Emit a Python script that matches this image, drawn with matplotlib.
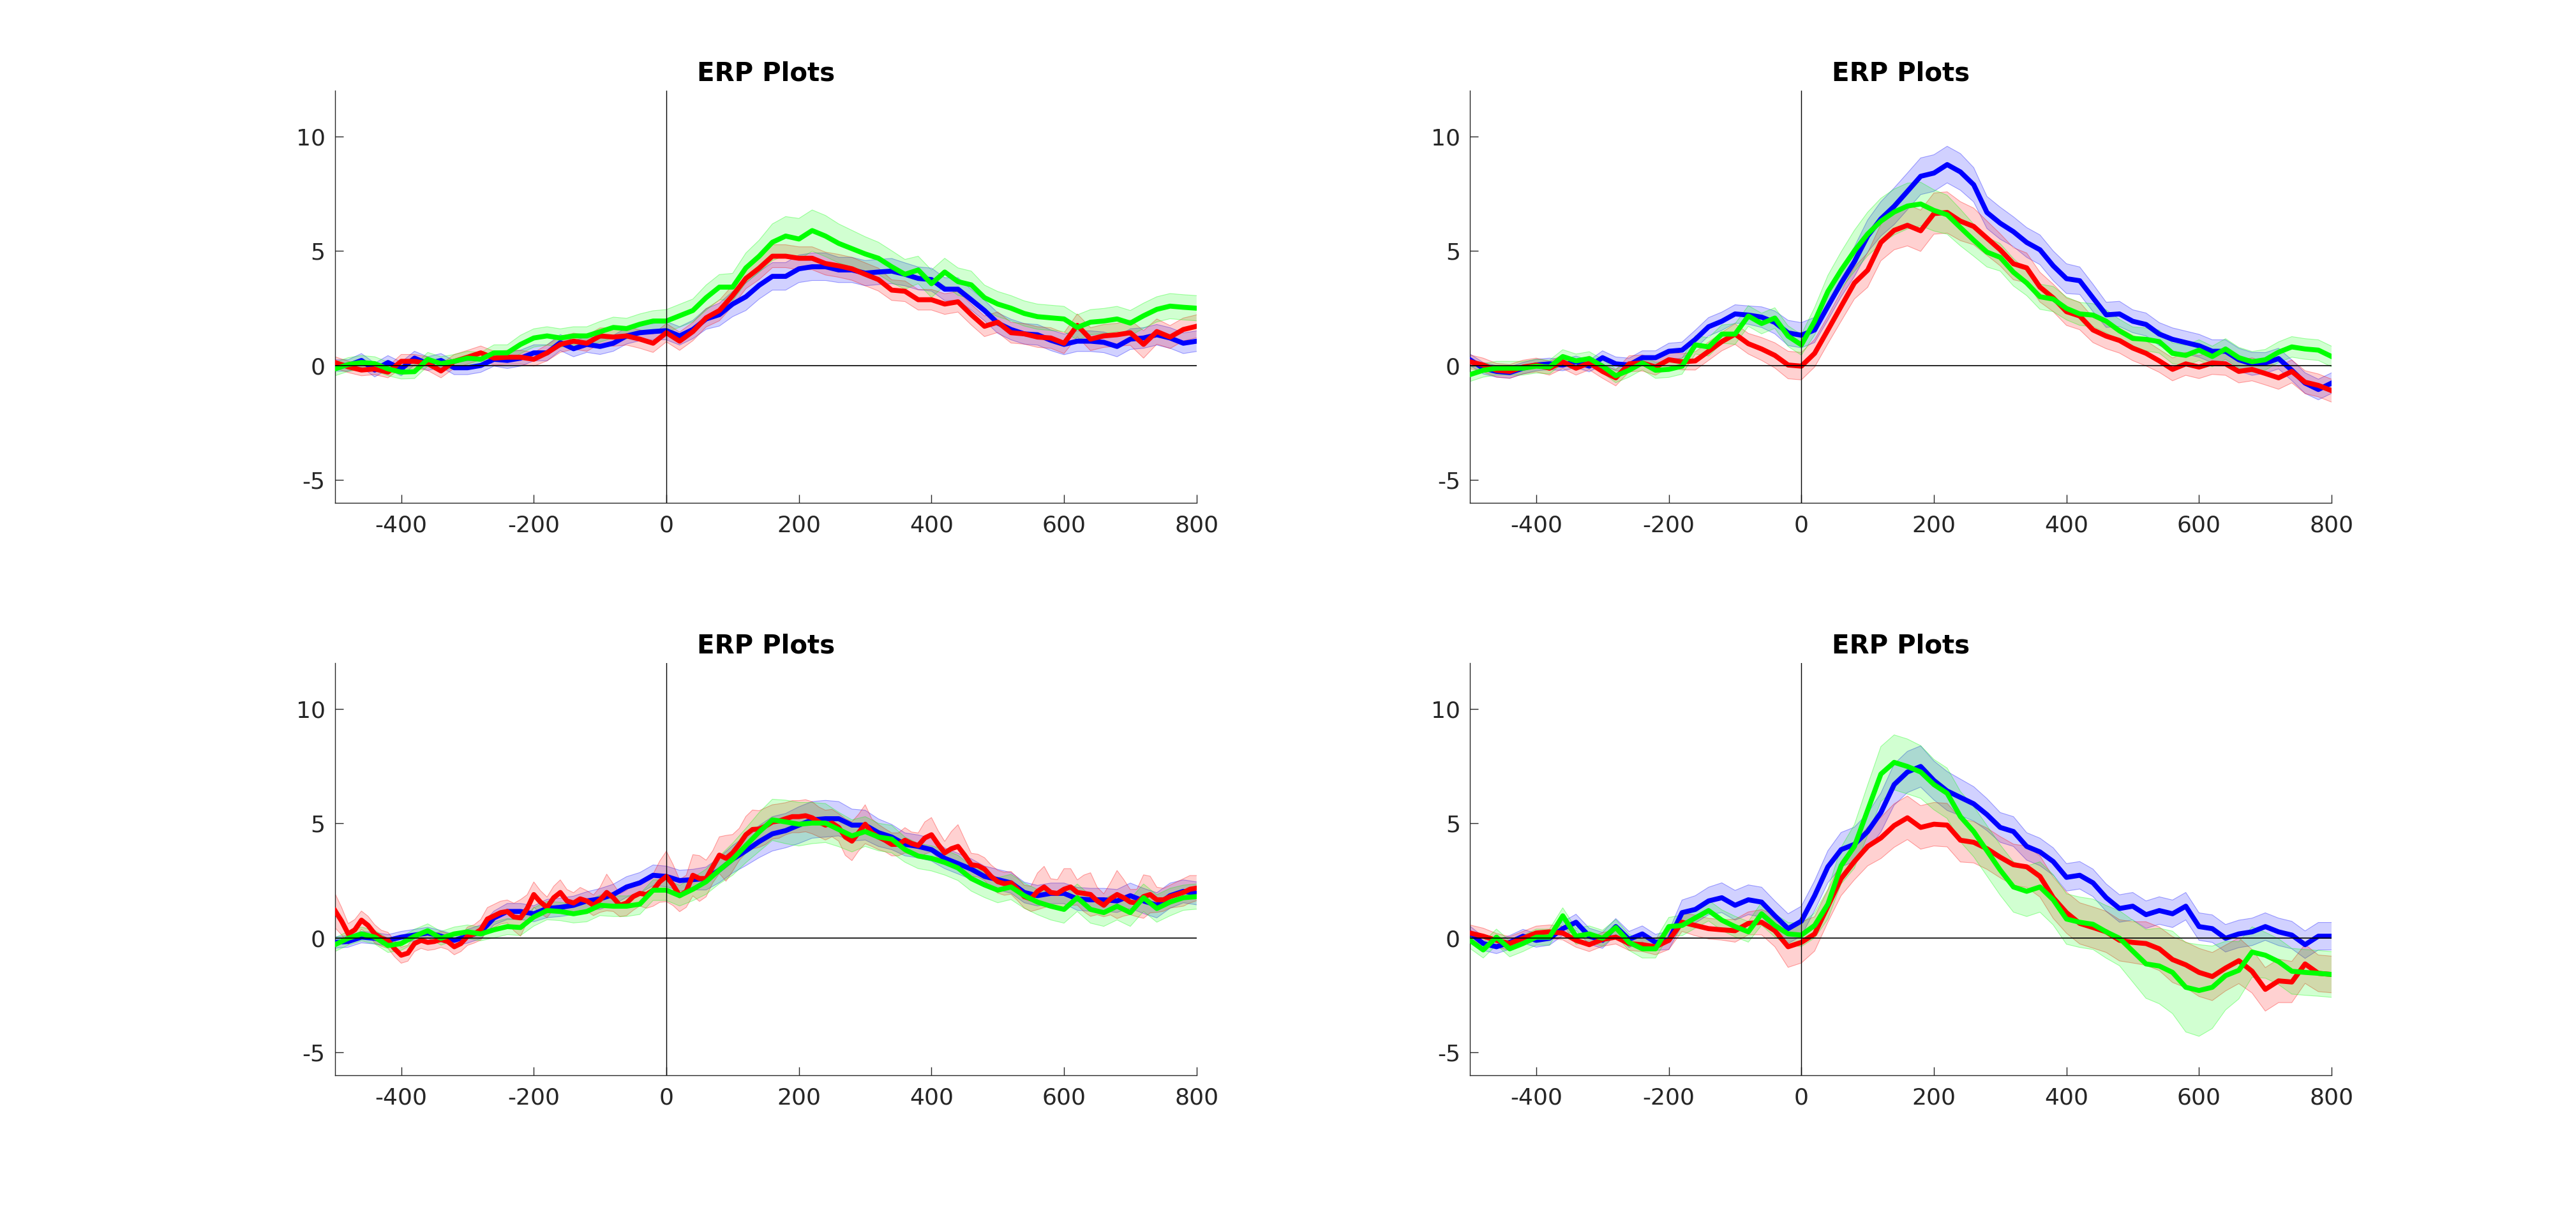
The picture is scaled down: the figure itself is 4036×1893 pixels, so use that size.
# ============================================================
# ERP plots, 4 panels (mean +- SE), blue / red / green conditions
# ============================================================

import numpy as np
import matplotlib
matplotlib.use("Agg")
import matplotlib.pyplot as plt

# ============================================================
# DATA
# ============================================================

# time axis (ms), 20 ms steps; the wiggly red trace of panel C uses 10 ms
t20 = np.arange(-500, 801, 20)
t10 = np.arange(-500, 801, 10)

# ---- panel A (top left) ----
A_blue = [0, 0, 0.22, -0.2, 0.13, -0.15, 0.32, 0.08, 0.22, -0.1,
          -0.1, 0, 0.27, 0.22, 0.32, 0.55, 0.55, 1.0, 0.73, 0.92,
          0.83, 0.97, 1.29, 1.43, 1.48,
          1.52, 1.29, 1.57, 2.03, 2.22, 2.68, 3.0, 3.5, 3.89, 3.89,
          4.22, 4.31, 4.31, 4.17, 4.17, 4.03, 4.08, 4.12, 3.98, 3.8,
          3.75, 3.33, 3.33, 2.87, 2.4, 1.85, 1.57, 1.38, 1.34, 1.1,
          0.92, 1.06, 1.06, 1.01, 0.83, 1.15, 1.2, 1.34, 1.2, 0.97,
          1.06]
A_red = [0.13, -0.06, -0.2, -0.15, -0.29, 0.18, 0.18, 0.08, -0.24, 0.18,
         0.36, 0.55, 0.32, 0.36, 0.36, 0.27, 0.55, 0.92, 1.06, 0.97,
         1.29, 1.24, 1.29, 1.15, 0.97,
         1.43, 1.06, 1.48, 2.08, 2.4, 3.05, 3.8, 4.25, 4.77, 4.77,
         4.68, 4.68, 4.45, 4.35, 4.22, 3.98, 3.75, 3.29, 3.24, 2.87,
         2.87, 2.68, 2.78, 2.22, 1.71, 1.89, 1.43, 1.38, 1.24, 1.2,
         0.97, 1.75, 1.15, 1.29, 1.34, 1.43, 0.92, 1.48, 1.24, 1.57,
         1.71]
A_green = [-0.15, 0.04, 0.13, 0.08, -0.15, -0.29, -0.27, 0.27, 0.08, 0.18,
           0.32, 0.27, 0.55, 0.55, 0.92, 1.2, 1.29, 1.2, 1.29, 1.29,
           1.47, 1.66, 1.61, 1.8, 1.94,
           1.94, 2.17, 2.4, 2.96, 3.42, 3.42, 4.26, 4.77, 5.38, 5.65,
           5.52, 5.89, 5.65, 5.33, 5.1, 4.87, 4.68, 4.31, 3.98, 4.17,
           3.57, 4.08, 3.66, 3.52, 2.96, 2.68, 2.5, 2.27, 2.13, 2.08,
           2.03, 1.66, 1.89, 1.94, 2.03, 1.85, 2.17, 2.45, 2.59, 2.54,
           2.5]
A_blue_se = [0.25, 0.25, 0.3, 0.3, 0.3, 0.3, 0.3, 0.3, 0.3, 0.3,
             0.3, 0.3, 0.3, 0.35, 0.35, 0.35, 0.35, 0.35, 0.35, 0.35,
             0.35, 0.35, 0.35, 0.35, 0.35,
             0.4, 0.4, 0.4, 0.45, 0.5, 0.55, 0.6, 0.6, 0.6, 0.6,
             0.6, 0.6, 0.6, 0.55, 0.55, 0.55, 0.55, 0.55, 0.5, 0.5,
             0.5, 0.5, 0.5, 0.45, 0.45, 0.45, 0.45, 0.45, 0.45, 0.45,
             0.45, 0.45, 0.45, 0.45, 0.45, 0.45, 0.45, 0.45, 0.45, 0.45,
             0.45]
A_red_se = [0.25, 0.25, 0.25, 0.25, 0.25, 0.3, 0.3, 0.3, 0.3, 0.3,
            0.3, 0.3, 0.3, 0.3, 0.3, 0.3, 0.35, 0.35, 0.35, 0.35,
            0.35, 0.4, 0.4, 0.4, 0.4,
            0.4, 0.4, 0.4, 0.4, 0.45, 0.45, 0.45, 0.5, 0.5, 0.5,
            0.5, 0.5, 0.5, 0.5, 0.5, 0.5, 0.5, 0.45, 0.45, 0.45,
            0.45, 0.45, 0.45, 0.45, 0.45, 0.45, 0.45, 0.45, 0.45, 0.45,
            0.45, 0.5, 0.5, 0.5, 0.5, 0.55, 0.6, 0.55, 0.5, 0.5,
            0.5]
A_green_se = [0.3, 0.3, 0.3, 0.3, 0.3, 0.3, 0.3, 0.3, 0.3, 0.3,
              0.3, 0.3, 0.35, 0.35, 0.4, 0.4, 0.4, 0.4, 0.4, 0.4,
              0.45, 0.45, 0.45, 0.45, 0.45,
              0.5, 0.5, 0.5, 0.55, 0.55, 0.6, 0.65, 0.7, 0.8, 0.85,
              0.9, 0.9, 0.9, 0.85, 0.8, 0.75, 0.7, 0.7, 0.65, 0.6,
              0.6, 0.6, 0.6, 0.6, 0.55, 0.55, 0.55, 0.55, 0.55, 0.55,
              0.55, 0.55, 0.55, 0.55, 0.55, 0.55, 0.55, 0.55, 0.55, 0.55,
              0.55]

# ---- panel B (top right) ----
B_blue = [0.25, -0.12, -0.26, -0.31, -0.12, 0.02, 0.07, 0.02, 0.16, -0.03,
          0.34, 0.07, 0.02, 0.34, 0.34, 0.62, 0.67, 1.14, 1.69, 1.93,
          2.25, 2.2, 2.11, 1.88, 1.42,
          1.32, 1.55, 2.58, 3.6, 4.53, 5.65, 6.4, 6.95, 7.6, 8.26,
          8.4, 8.77, 8.45, 7.89, 6.68, 6.21, 5.84, 5.37, 5.05, 4.35,
          3.79, 3.7, 2.95, 2.21, 2.25, 1.93, 1.79, 1.37, 1.14, 1.0,
          0.86, 0.62, 0.62, 0.25, 0.07, 0.11, 0.3, -0.21, -0.77, -1.05,
          -0.77]
B_red = [0.16, 0.02, -0.21, -0.26, -0.07, 0.02, -0.12, 0.16, -0.12, 0.11,
         -0.26, -0.54, 0.07, 0.11, -0.07, 0.25, 0.16, 0.2, 0.62, 1.04,
         1.37, 0.95, 0.72, 0.44, 0.02,
         -0.03, 0.53, 1.55, 2.58, 3.6, 4.16, 5.37, 5.9, 6.12, 5.88,
         6.63, 6.68, 6.3, 6.07, 5.56, 5.05, 4.44, 4.26, 3.42, 2.95,
         2.35, 2.16, 1.55, 1.28, 1.09, 0.76, 0.53, 0.2, -0.17, 0.07,
         -0.07, 0.11, 0.07, -0.26, -0.17, -0.35, -0.54, -0.26, -0.73, -0.87,
         -1.1]
B_green = [-0.4, -0.21, -0.12, -0.12, -0.12, -0.03, -0.07, 0.39, 0.2, 0.3,
           -0.03, -0.45, -0.21, 0.11, -0.21, -0.17, -0.03, 0.9, 0.81, 1.37,
           1.37, 2.16, 1.83, 2.07, 1.28,
           0.9, 1.93, 3.23, 4.16, 5.0, 5.74, 6.3, 6.7, 6.96, 7.05,
           6.77, 6.58, 6.02, 5.47, 4.95, 4.72, 4.07, 3.6, 3.0, 2.9,
           2.49, 2.25, 2.2, 1.93, 1.51, 1.18, 1.14, 1.04, 0.53, 0.44,
           0.67, 0.39, 0.72, 0.34, 0.16, 0.25, 0.58, 0.81, 0.72, 0.67,
           0.39]
B_blue_se = [0.25, 0.25, 0.25, 0.25, 0.25, 0.25, 0.25, 0.25, 0.25, 0.25,
             0.3, 0.3, 0.3, 0.3, 0.3, 0.35, 0.35, 0.4, 0.4, 0.4,
             0.4, 0.4, 0.45, 0.5, 0.55,
             0.55, 0.55, 0.6, 0.6, 0.65, 0.7, 0.75, 0.8, 0.8, 0.8,
             0.8, 0.8, 0.8, 0.75, 0.7, 0.7, 0.65, 0.65, 0.65, 0.65,
             0.65, 0.6, 0.6, 0.55, 0.55, 0.5, 0.5, 0.5, 0.5, 0.5,
             0.5, 0.5, 0.5, 0.5, 0.5, 0.45, 0.45, 0.45, 0.45, 0.45,
             0.45]
B_red_se = [0.3, 0.3, 0.3, 0.3, 0.3, 0.3, 0.3, 0.3, 0.3, 0.3,
            0.3, 0.35, 0.35, 0.35, 0.35, 0.35, 0.35, 0.4, 0.4, 0.4,
            0.45, 0.45, 0.5, 0.55, 0.6,
            0.6, 0.6, 0.6, 0.65, 0.7, 0.75, 0.8, 0.85, 0.9, 0.9,
            0.9, 0.9, 0.85, 0.8, 0.75, 0.7, 0.7, 0.65, 0.65, 0.6,
            0.6, 0.6, 0.55, 0.55, 0.55, 0.55, 0.55, 0.5, 0.5, 0.5,
            0.5, 0.5, 0.5, 0.5, 0.5, 0.5, 0.5, 0.5, 0.5, 0.5,
            0.5]
B_green_se = [0.3, 0.3, 0.3, 0.3, 0.3, 0.3, 0.3, 0.3, 0.3, 0.3,
              0.3, 0.3, 0.3, 0.3, 0.35, 0.35, 0.35, 0.4, 0.4, 0.4,
              0.45, 0.45, 0.45, 0.45, 0.45,
              0.45, 0.6, 0.7, 0.8, 0.9, 0.95, 1.0, 1.0, 1.0, 0.95,
              0.9, 0.85, 0.8, 0.7, 0.65, 0.6, 0.6, 0.55, 0.55, 0.55,
              0.5, 0.5, 0.5, 0.5, 0.5, 0.5, 0.5, 0.5, 0.45, 0.45,
              0.45, 0.45, 0.45, 0.45, 0.45, 0.45, 0.45, 0.45, 0.45, 0.45,
              0.45]

# ---- panel C (bottom left) ----
C_blue = [-0.2, -0.16, 0.03, -0.02, -0.11, 0.03, 0.12, 0.21, 0.07, -0.11,
          0.07, 0.26, 0.87, 1.15, 1.15, 1.05, 1.28, 1.33, 1.42, 1.61,
          1.7, 1.89, 2.22, 2.4, 2.73,
          2.68, 2.5, 2.54, 2.59, 2.96, 3.43, 3.8, 4.2, 4.54, 4.68,
          4.92, 5.15, 5.2, 5.2, 4.92, 4.92, 4.59, 4.4, 4.08, 3.99,
          3.85, 3.47, 3.24, 3.0, 2.68, 2.54, 2.4, 1.98, 1.84, 1.94,
          1.94, 1.7, 1.66, 1.66, 1.61, 1.84, 1.61, 1.42, 1.84, 2.03,
          1.94]
C_red = [1.19, 0.73, 0.17, 0.35, 0.77, 0.54, 0.17, -0.02, -0.11, -0.48,
         -0.76, -0.67, -0.25, -0.11, -0.2, -0.16, -0.07, -0.16, -0.39, -0.25,
         0.07, 0.17, 0.35, 0.82, 0.96, 1.1, 1.15, 0.91, 0.87, 1.28,
         1.89, 1.56, 1.33, 1.75, 1.98, 1.61, 1.52, 1.7, 1.61, 1.42,
         1.66, 1.98, 1.75, 1.42, 1.52, 1.8, 1.94, 1.89, 2.08, 2.45,
         2.68, 2.31, 1.84, 2.03, 2.73, 2.59, 2.59, 3.1, 3.61, 3.47,
         3.71, 4.08, 4.5, 4.73, 4.75, 4.88, 5.06, 5.1, 5.2, 5.29,
         5.29, 5.33, 5.24, 5.06, 4.92, 5.01, 4.82, 4.4, 4.22, 4.59,
         4.96, 4.59, 4.4, 4.26, 4.08, 4.08, 4.26, 4.12, 4.03, 4.36,
         4.5, 4.08, 3.71, 3.89, 3.99, 3.61, 3.19, 3.15, 3.0, 2.68,
         2.45, 2.36, 2.4, 2.12, 1.8, 1.7, 2.03, 2.22, 1.98, 1.94,
         2.12, 2.22, 1.98, 1.94, 1.89, 1.61, 1.42, 1.7, 1.89, 1.75,
         1.56, 1.52, 1.8, 1.89, 1.66, 1.66, 1.8, 1.89, 1.98, 2.12,
         2.17]
C_green = [-0.3, -0.02, 0.17, 0.03, -0.34, -0.25, 0.07, 0.31, -0.02, 0.17,
           0.26, 0.17, 0.35, 0.49, 0.45, 0.91, 1.19, 1.15, 1.05, 1.15,
           1.42, 1.38, 1.38, 1.47, 2.08,
           2.08, 1.84, 2.12, 2.45, 2.96, 3.43, 4.03, 4.62, 5.15, 5.06,
           4.96, 5.01, 5.01, 4.73, 4.45, 4.64, 4.4, 4.31, 3.85, 3.57,
           3.47, 3.29, 3.05, 2.59, 2.31, 2.08, 2.22, 1.84, 1.56, 1.38,
           1.24, 1.75, 1.24, 1.1, 1.38, 1.1, 1.75, 1.28, 1.56, 1.75,
           1.8]
C_blue_se = [0.25, 0.25, 0.25, 0.25, 0.25, 0.25, 0.25, 0.25, 0.25, 0.25,
             0.3, 0.3, 0.3, 0.35, 0.35, 0.35, 0.4, 0.4, 0.4, 0.4,
             0.45, 0.45, 0.45, 0.45, 0.45,
             0.45, 0.45, 0.45, 0.5, 0.55, 0.6, 0.65, 0.7, 0.75, 0.75,
             0.8, 0.8, 0.8, 0.75, 0.7, 0.65, 0.6, 0.55, 0.5, 0.5,
             0.5, 0.45, 0.45, 0.45, 0.45, 0.45, 0.45, 0.45, 0.45, 0.45,
             0.45, 0.5, 0.5, 0.5, 0.5, 0.55, 0.55, 0.55, 0.55, 0.5,
             0.5]
C_red_se = [0.75, 0.6, 0.45, 0.45, 0.4, 0.4, 0.4, 0.35, 0.35, 0.35,
            0.35, 0.35, 0.35, 0.35, 0.35, 0.35, 0.35, 0.35, 0.35, 0.35,
            0.4, 0.4, 0.45, 0.5, 0.5, 0.5, 0.5, 0.6, 0.8, 0.6,
            0.55, 0.5, 0.45, 0.5, 0.55, 0.5, 0.45, 0.5, 0.45, 0.45,
            0.55, 0.8, 0.6, 0.5, 0.55, 0.6, 0.55, 0.6, 0.7, 0.9,
            1.1, 0.9, 0.7, 0.7, 0.9, 1.0, 0.8, 0.7, 0.8, 1.0,
            0.8, 0.7, 0.8, 0.85, 0.8, 0.8, 0.75, 0.75, 0.7, 0.7,
            0.7, 0.7, 0.7, 0.65, 0.65, 0.6, 0.6, 0.8, 0.85, 0.8,
            0.85, 0.6, 0.55, 0.5, 0.5, 0.5, 0.55, 0.5, 0.55, 0.7,
            0.75, 0.6, 0.5, 0.75, 0.95, 0.7, 0.5, 0.5, 0.5, 0.5,
            0.5, 0.5, 0.5, 0.5, 0.5, 0.55, 0.8, 0.9, 0.6, 0.6,
            0.9, 0.8, 0.55, 0.8, 0.95, 0.6, 0.5, 0.7, 1.05, 0.8,
            0.55, 0.6, 0.95, 0.8, 0.55, 0.5, 0.5, 0.55, 0.6, 0.6,
            0.55]
C_green_se = [0.3, 0.3, 0.3, 0.3, 0.3, 0.3, 0.3, 0.3, 0.3, 0.3,
              0.3, 0.3, 0.35, 0.35, 0.35, 0.4, 0.4, 0.4, 0.4, 0.45,
              0.45, 0.45, 0.45, 0.45, 0.45,
              0.45, 0.45, 0.5, 0.55, 0.6, 0.7, 0.75, 0.85, 0.9, 0.95,
              0.95, 0.9, 0.85, 0.75, 0.7, 0.65, 0.6, 0.6, 0.55, 0.55,
              0.55, 0.55, 0.55, 0.55, 0.55, 0.55, 0.55, 0.55, 0.55, 0.6,
              0.6, 0.6, 0.6, 0.6, 0.6, 0.6, 0.6, 0.6, 0.6, 0.55,
              0.55]

# ---- panel D (bottom right) ----
D_blue = [0.21, -0.25, -0.39, -0.2, 0.07, -0.11, -0.02, 0.4, 0.68, 0.07,
          -0.11, 0.49, -0.07, 0.17, -0.2, -0.11, 1.1, 1.24, 1.61, 1.75,
          1.42, 1.66, 1.56, 0.96, 0.4,
          0.73, 1.84, 3.1, 3.85, 4.08, 4.64, 5.47, 6.69, 7.24, 7.48,
          6.87, 6.41, 6.13, 5.85, 5.38, 4.82, 4.64, 3.99, 3.75, 3.33,
          2.64, 2.73, 2.4, 1.75, 1.28, 1.38, 1.01, 1.19, 1.05, 1.38,
          0.49, 0.4, -0.02, 0.17, 0.26, 0.49, 0.26, 0.12, -0.3, 0.07,
          0.07]
D_red = [0.21, 0.07, -0.11, -0.25, -0.02, 0.21, 0.26, 0.21, -0.11, -0.3,
         -0.07, 0.03, -0.25, -0.3, -0.39, -0.11, 0.68, 0.54, 0.4, 0.35,
         0.31, 0.63, 0.68, 0.31, -0.39,
         -0.2, 0.17, 1.38, 2.59, 3.33, 3.99, 4.36, 4.9, 5.24, 4.82,
         4.96, 4.92, 4.26, 4.17, 3.89, 3.52, 3.19, 3.1, 2.68, 1.75,
         1.1, 0.63, 0.45, 0.26, -0.11, -0.2, -0.25, -0.48, -0.95, -1.18,
         -1.51, -1.69, -1.32, -1.0, -1.46, -2.25, -1.88, -1.93, -1.14, -1.55,
         -1.6]
D_green = [-0.11, -0.53, 0.03, -0.48, -0.25, 0.03, 0.03, 0.96, 0.07, 0.17,
           -0.02, 0.45, -0.2, -0.48, -0.48, 0.49, 0.54, 0.87, 1.19, 0.77,
           0.49, 0.26, 1.05, 0.54, 0.17,
           0.12, 0.54, 1.47, 3.15, 3.99, 5.57, 7.15, 7.66, 7.48, 7.24,
           6.69, 6.31, 5.29, 4.64, 3.8, 2.96, 2.22, 2.03, 2.22, 1.66,
           0.82, 0.68, 0.59, 0.26, -0.02, -0.58, -1.14, -1.23, -1.51, -2.16,
           -2.3, -2.16, -1.65, -1.42, -0.62, -0.76, -1.04, -1.46, -1.51, -1.55,
           -1.6]
D_blue_se = [0.3, 0.3, 0.3, 0.3, 0.3, 0.3, 0.3, 0.3, 0.35, 0.35,
             0.35, 0.35, 0.35, 0.35, 0.35, 0.4, 0.55, 0.6, 0.6, 0.65,
             0.65, 0.65, 0.65, 0.65, 0.65,
             0.65, 0.65, 0.7, 0.75, 0.75, 0.8, 0.85, 0.9, 0.9, 0.9,
             0.85, 0.85, 0.8, 0.75, 0.7, 0.65, 0.65, 0.6, 0.6, 0.6,
             0.6, 0.6, 0.6, 0.6, 0.6, 0.6, 0.6, 0.6, 0.6, 0.6,
             0.6, 0.6, 0.6, 0.6, 0.6, 0.6, 0.6, 0.6, 0.6, 0.6,
             0.6]
D_red_se = [0.35, 0.35, 0.3, 0.3, 0.3, 0.3, 0.3, 0.3, 0.3, 0.3,
            0.3, 0.3, 0.3, 0.3, 0.35, 0.4, 0.4, 0.45, 0.45, 0.45,
            0.5, 0.5, 0.55, 0.7, 0.9,
            0.9, 0.75, 0.7, 0.75, 0.8, 0.85, 0.9, 0.95, 0.95, 0.95,
            0.95, 0.95, 0.95, 0.9, 0.9, 0.9, 0.9, 0.9, 0.9, 0.9,
            0.9, 0.9, 0.9, 0.9, 0.9, 0.9, 0.95, 0.95, 1.0, 1.0,
            1.05, 1.05, 1.0, 1.0, 0.95, 0.95, 0.95, 0.9, 0.85, 0.8,
            0.8]
D_green_se = [0.35, 0.35, 0.35, 0.35, 0.35, 0.35, 0.35, 0.35, 0.35, 0.35,
              0.35, 0.35, 0.35, 0.4, 0.4, 0.4, 0.45, 0.45, 0.45, 0.45,
              0.45, 0.45, 0.5, 0.5, 0.5,
              0.5, 0.55, 0.65, 0.8, 0.95, 1.1, 1.2, 1.2, 1.2, 1.15,
              1.1, 1.1, 1.1, 1.1, 1.1, 1.1, 1.1, 1.1, 1.1, 1.1,
              1.1, 1.1, 1.1, 1.15, 1.2, 1.35, 1.5, 1.65, 1.8, 1.95,
              2.0, 1.8, 1.5, 1.25, 1.1, 1.0, 1.0, 1.0, 1.0, 1.0,
              1.0]

# ============================================================
# STYLE
# ============================================================

plt.rcParams["font.family"] = ["DejaVu Sans"]
plt.rcParams["axes.unicode_minus"] = False

AX_C = (0.15, 0.15, 0.15)
BLUE = (0, 0, 1)
RED = (1, 0, 0)
GREEN = (0, 1, 0)

XTICKS = [-400, -200, 0, 200, 400, 600, 800]
YTICKS = [-5, 0, 5, 10]

panels = [
    # (axes rect, [(t, mean, se, color), ...])
    ([0.1300, 0.5837, 0.3344, 0.3413],
     [(t20, A_blue, A_blue_se, BLUE), (t20, A_red, A_red_se, RED),
      (t20, A_green, A_green_se, GREEN)]),
    ([0.5705, 0.5837, 0.3344, 0.3413],
     [(t20, B_blue, B_blue_se, BLUE), (t20, B_red, B_red_se, RED),
      (t20, B_green, B_green_se, GREEN)]),
    ([0.1300, 0.1099, 0.3344, 0.3413],
     [(t20, C_blue, C_blue_se, BLUE), (t10, C_red, C_red_se, RED),
      (t20, C_green, C_green_se, GREEN)]),
    ([0.5705, 0.1099, 0.3344, 0.3413],
     [(t20, D_blue, D_blue_se, BLUE), (t20, D_red, D_red_se, RED),
      (t20, D_green, D_green_se, GREEN)]),
]

fig = plt.figure(figsize=(40.37, 18.93), dpi=100, facecolor="white")

for rect, series in panels:
    ax = fig.add_axes(rect)

    for t, m, se, col in series:
        m = np.asarray(m)
        se = np.asarray(se)
        ax.fill_between(t, m - se, m + se, facecolor=col, alpha=0.18,
                        edgecolor="none", zorder=2)
        ax.plot(t, m + se, color=col, lw=0.8, alpha=0.35, zorder=2)
        ax.plot(t, m - se, color=col, lw=0.8, alpha=0.35, zorder=2)
        ax.plot(t, m, color=col, lw=5.6, solid_joinstyle="round", zorder=3)

    # reference lines
    ax.axhline(0, color="black", lw=1.2, zorder=4)
    ax.axvline(0, color="black", lw=1.0, zorder=4)

    ax.set_xlim(-500, 800)
    ax.set_ylim(-6, 12)
    ax.set_xticks(XTICKS)
    ax.set_yticks(YTICKS)

    for side in ["top", "right"]:
        ax.spines[side].set_visible(False)
    for side in ["left", "bottom"]:
        ax.spines[side].set_color(AX_C)
        ax.spines[side].set_linewidth(1.0)

    ax.tick_params(direction="in", length=9.5, width=1.0, color=AX_C,
                   labelcolor=AX_C, labelsize=26)
    ax.tick_params(axis="x", pad=13)
    ax.tick_params(axis="y", pad=11)

    ax.set_title("ERP Plots", fontsize=29, fontweight="bold", pad=11)

fig.savefig("out.png", dpi=100, facecolor="white")
